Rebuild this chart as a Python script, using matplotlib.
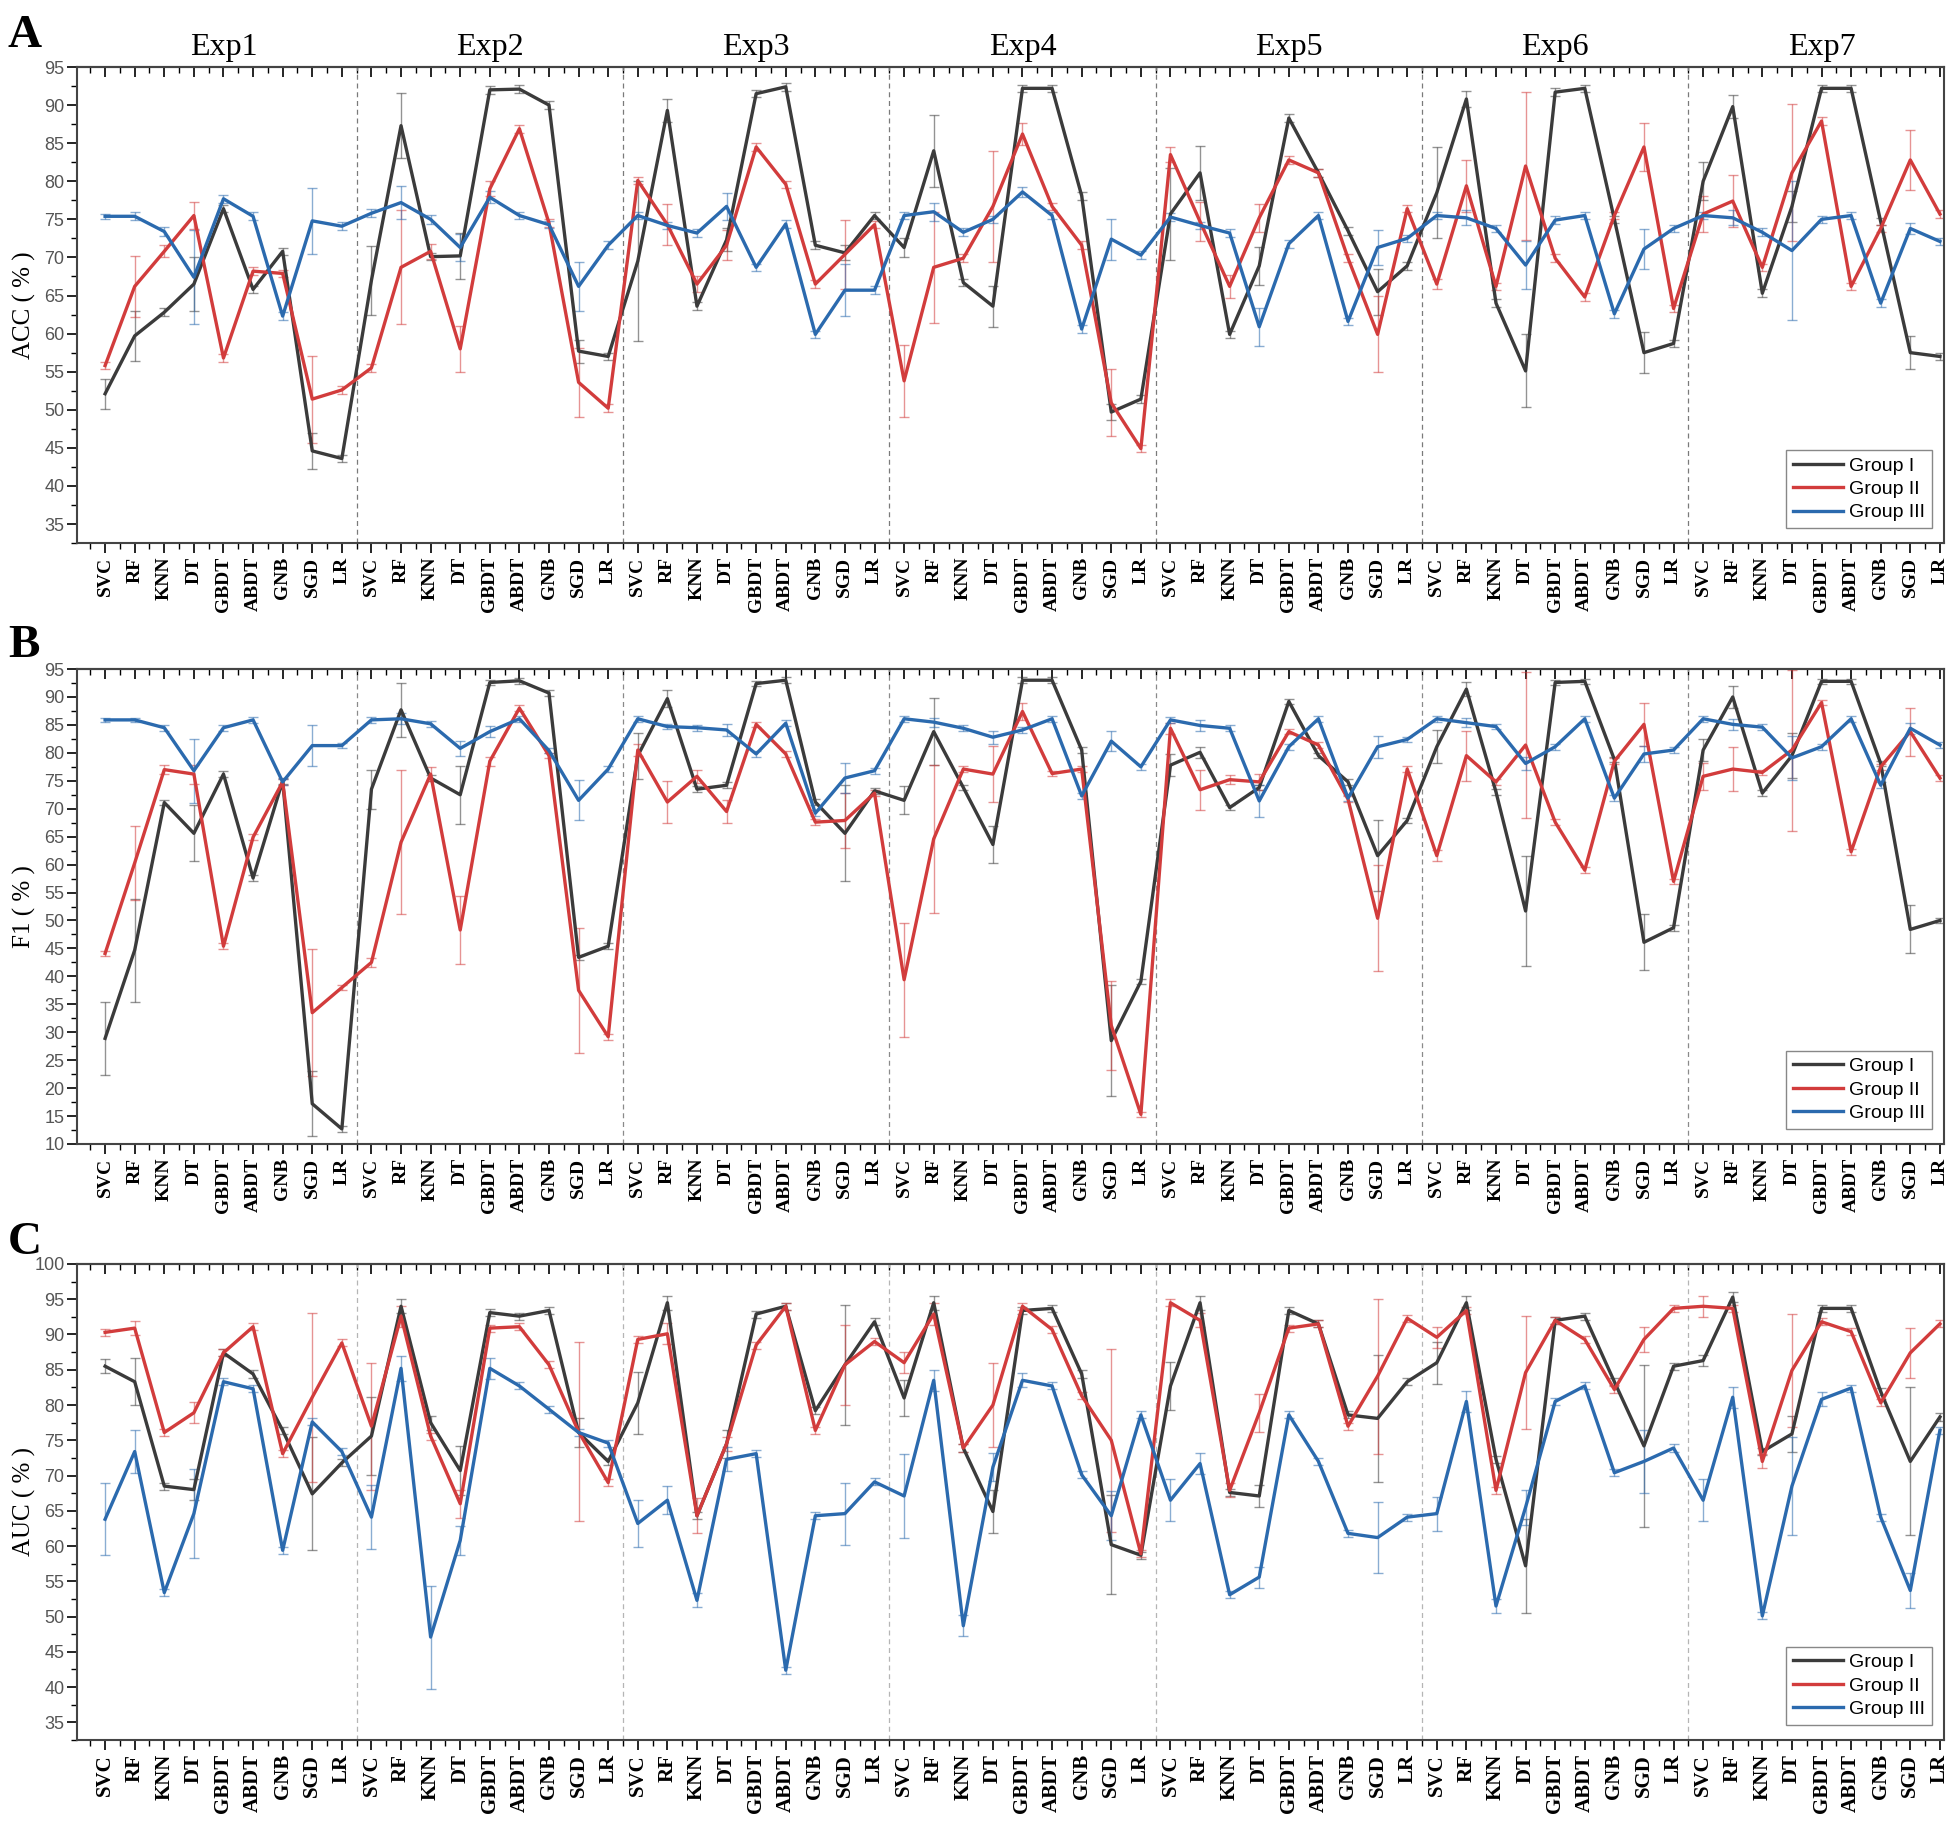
import matplotlib.pyplot as plt
import numpy as np
from matplotlib.lines import Line2D
from matplotlib.ticker import MultipleLocator, FixedLocator

classifiers = ["SVC", "RF", "KNN", "DT", "GBDT", "ABDT", "GNB", "SGD", "LR"]
experiments = ["Exp1", "Exp2", "Exp3", "Exp4", "Exp5", "Exp6", "Exp7"]
groups = ["Group I", "Group II", "Group III"]

# ---- ACC (%) : one row per experiment, one value per classifier ----
acc_g1 = [[52.1, 59.7, 62.8, 66.5, 76.4, 65.8, 70.8, 44.6, 43.6],
          [67.0, 87.3, 70.1, 70.2, 92.0, 92.1, 90.0, 57.7, 57.0],
          [69.5, 89.3, 63.6, 72.3, 91.5, 92.4, 71.6, 70.6, 75.5],
          [71.3, 84.0, 66.7, 63.6, 92.2, 92.2, 78.1, 49.7, 51.4],
          [75.7, 81.1, 59.9, 68.9, 88.3, 81.1, 73.5, 65.5, 68.9],
          [78.5, 90.8, 64.0, 55.1, 91.7, 92.2, 75.0, 57.5, 58.7],
          [80.0, 89.8, 65.3, 76.7, 92.2, 92.2, 74.7, 57.5, 57.0]]
acc_g1_err = [[2.0, 3.3, 0.5, 3.5, 0.5, 0.5, 0.5, 2.4, 0.5],
              [4.5, 4.3, 0.5, 3.0, 0.5, 0.5, 0.5, 1.5, 0.5],
              [10.5, 1.5, 0.5, 1.5, 0.5, 0.5, 0.5, 1.0, 0.5],
              [1.2, 4.7, 0.5, 2.7, 0.5, 0.5, 0.5, 1.0, 0.5],
              [6.0, 3.5, 0.5, 2.5, 0.5, 0.5, 0.5, 3.0, 0.5],
              [6.0, 1.0, 0.5, 4.8, 0.5, 0.5, 0.5, 2.7, 0.5],
              [2.5, 1.5, 0.5, 2.0, 0.5, 0.5, 0.5, 2.2, 0.5]]
acc_g2 = [[55.8, 66.2, 70.8, 75.5, 56.8, 68.2, 67.9, 51.4, 52.6],
          [55.5, 68.7, 70.8, 58.0, 79.0, 86.9, 74.5, 53.6, 50.2],
          [80.1, 74.3, 66.5, 71.6, 84.5, 79.6, 66.5, 70.4, 74.3],
          [53.8, 68.7, 69.9, 76.7, 86.2, 76.7, 71.6, 50.9, 44.9],
          [83.5, 74.7, 66.2, 75.2, 82.8, 81.1, 69.9, 59.9, 76.4],
          [66.5, 79.4, 66.2, 82.0, 69.9, 64.8, 75.5, 84.5, 63.3],
          [75.7, 77.4, 68.7, 81.1, 87.9, 66.2, 73.8, 82.8, 75.7]]
acc_g2_err = [[0.5, 4.0, 0.8, 1.8, 0.5, 0.5, 0.5, 5.7, 0.5],
              [0.5, 7.5, 1.0, 3.0, 1.0, 0.5, 0.5, 4.5, 0.5],
              [0.5, 2.7, 1.0, 2.0, 0.5, 0.5, 0.5, 4.5, 0.5],
              [4.7, 7.3, 0.5, 7.3, 1.5, 0.5, 0.5, 4.4, 0.5],
              [1.0, 2.6, 1.5, 1.8, 0.5, 0.5, 0.5, 5.0, 0.5],
              [0.7, 3.4, 0.5, 9.7, 0.5, 0.5, 0.5, 3.2, 0.5],
              [2.4, 3.4, 0.5, 9.0, 0.5, 0.5, 0.5, 3.9, 0.5]]
acc_g3 = [[75.4, 75.4, 73.4, 67.4, 77.7, 75.4, 62.3, 74.8, 74.1],
          [75.8, 77.2, 75.0, 71.3, 77.9, 75.5, 74.3, 66.2, 71.6],
          [75.5, 74.2, 73.2, 76.7, 68.7, 74.4, 59.9, 65.7, 65.7],
          [75.5, 76.0, 73.3, 75.0, 78.6, 75.5, 60.6, 72.4, 70.3],
          [75.3, 74.2, 73.2, 60.9, 71.8, 75.5, 61.6, 71.3, 72.5],
          [75.5, 75.2, 73.8, 69.0, 74.9, 75.5, 62.6, 71.1, 73.8],
          [75.5, 75.2, 73.3, 70.9, 75.0, 75.5, 64.0, 73.8, 72.1]]
acc_g3_err = [[0.3, 0.5, 0.6, 6.2, 0.5, 0.5, 0.5, 4.3, 0.5],
              [0.5, 2.2, 0.6, 1.8, 0.8, 0.5, 0.5, 3.2, 0.5],
              [0.5, 0.5, 0.5, 1.8, 0.5, 0.5, 0.5, 3.4, 0.5],
              [0.5, 1.2, 0.5, 0.5, 0.7, 0.5, 0.5, 2.7, 0.5],
              [0.5, 0.5, 0.5, 2.5, 0.5, 0.5, 0.5, 2.3, 0.5],
              [0.5, 1.0, 0.5, 3.2, 0.5, 0.5, 0.5, 2.6, 0.5],
              [0.5, 1.0, 0.5, 9.1, 0.5, 0.5, 0.5, 0.7, 0.5]]

# ---- F1 (%) ----
f1_g1 = [[28.9, 44.7, 71.1, 65.6, 76.2, 57.6, 75.0, 17.2, 12.7],
         [73.5, 87.7, 75.5, 72.5, 92.6, 92.9, 90.7, 43.4, 45.4],
         [79.5, 89.7, 73.5, 74.2, 92.4, 93.0, 71.2, 65.6, 73.2],
         [71.5, 83.8, 73.8, 63.6, 93.0, 93.0, 80.5, 28.5, 39.1],
         [77.8, 80.1, 70.2, 73.8, 89.2, 79.5, 74.8, 61.6, 67.9],
         [81.1, 91.4, 73.0, 51.7, 92.6, 92.8, 78.8, 46.1, 48.7],
         [80.5, 90.0, 72.8, 79.5, 92.8, 92.8, 78.1, 48.4, 50.0]]
f1_g1_err = [[6.6, 9.2, 0.5, 5.0, 0.5, 0.5, 0.5, 5.8, 0.5],
             [3.5, 4.8, 0.5, 5.2, 0.5, 0.5, 0.5, 0.5, 0.5],
             [4.1, 1.5, 0.5, 0.5, 0.5, 0.5, 0.5, 8.6, 0.5],
             [2.5, 6.0, 0.5, 3.3, 0.5, 0.5, 0.5, 10.0, 0.5],
             [2.0, 1.0, 0.5, 0.5, 0.5, 0.5, 0.5, 6.3, 0.5],
             [3.0, 1.3, 0.5, 9.8, 0.5, 0.5, 0.5, 5.0, 0.5],
             [2.0, 2.0, 0.5, 4.0, 0.5, 0.5, 0.5, 4.3, 0.5]]
f1_g2 = [[44.1, 60.3, 77.0, 76.2, 45.4, 64.9, 74.8, 33.5, 38.0],
         [42.5, 64.0, 76.2, 48.3, 78.5, 88.0, 79.5, 37.5, 29.2],
         [80.5, 71.2, 75.8, 69.5, 85.1, 79.8, 67.6, 67.9, 72.8],
         [39.4, 64.6, 77.1, 76.2, 87.4, 76.3, 77.1, 31.2, 15.3],
         [84.4, 73.4, 75.2, 74.8, 83.8, 81.4, 71.7, 50.4, 77.1],
         [61.6, 79.5, 74.8, 81.4, 67.6, 59.0, 78.5, 85.1, 57.0],
         [75.8, 77.1, 76.5, 80.5, 89.0, 62.3, 77.5, 83.8, 75.5]]
f1_g2_err = [[0.5, 6.6, 0.8, 1.7, 0.5, 0.5, 0.5, 11.4, 0.5],
             [0.8, 12.9, 1.3, 6.0, 0.8, 0.5, 0.5, 11.2, 0.5],
             [1.0, 3.8, 1.2, 2.0, 0.5, 0.5, 0.5, 5.0, 0.5],
             [10.2, 13.2, 0.5, 5.0, 1.5, 0.5, 0.5, 8.0, 0.5],
             [1.0, 3.6, 0.8, 1.5, 0.5, 0.5, 0.5, 9.5, 0.5],
             [1.0, 4.5, 0.5, 13.0, 0.5, 0.5, 0.5, 3.8, 0.5],
             [2.4, 4.0, 0.5, 14.4, 0.5, 0.5, 0.5, 4.3, 0.5]]
f1_g3 = [[85.9, 85.9, 84.5, 76.8, 84.5, 85.9, 74.8, 81.3, 81.3],
         [85.9, 86.1, 85.2, 80.8, 83.8, 86.1, 80.4, 71.5, 77.1],
         [86.1, 84.7, 84.5, 84.1, 79.8, 85.3, 69.2, 75.5, 76.8],
         [86.1, 85.5, 84.4, 82.8, 84.1, 86.1, 72.3, 82.1, 77.5],
         [85.9, 84.9, 84.4, 71.4, 81.1, 86.1, 71.9, 81.1, 82.4],
         [86.1, 85.4, 84.7, 78.1, 81.1, 86.1, 71.9, 79.8, 80.5],
         [86.1, 85.1, 84.6, 79.1, 81.1, 86.1, 74.2, 84.4, 81.4]]
f1_g3_err = [[0.3, 0.3, 0.5, 5.7, 0.5, 0.5, 0.5, 3.7, 0.5],
             [0.5, 1.0, 0.5, 1.3, 1.0, 0.5, 0.5, 3.6, 0.5],
             [0.5, 0.5, 0.5, 1.0, 0.5, 0.5, 0.5, 2.7, 0.5],
             [0.5, 0.8, 0.5, 1.2, 0.5, 0.5, 0.5, 1.8, 0.5],
             [0.5, 1.0, 0.5, 2.8, 0.5, 0.5, 0.5, 2.0, 0.5],
             [0.5, 0.8, 0.5, 1.2, 0.5, 0.5, 0.5, 1.5, 0.5],
             [0.5, 1.0, 0.5, 4.0, 0.5, 0.5, 0.5, 1.0, 0.5]]

# ---- AUC (%) ----
auc_g1 = [[85.5, 83.3, 68.5, 68.0, 87.4, 84.4, 76.4, 67.4, 71.8],
          [75.6, 94.0, 77.5, 70.7, 93.1, 92.6, 93.4, 76.1, 72.0],
          [80.3, 94.5, 64.3, 74.5, 92.9, 94.0, 79.2, 85.7, 91.8],
          [81.0, 94.5, 73.9, 64.9, 93.4, 93.7, 84.4, 60.2, 58.7],
          [82.7, 94.5, 67.6, 67.1, 93.4, 91.5, 78.6, 78.1, 83.3],
          [86.0, 94.5, 72.3, 57.2, 92.0, 92.6, 83.3, 74.2, 85.5],
          [86.3, 95.3, 73.4, 75.9, 93.7, 93.7, 81.9, 72.0, 78.3]]
auc_g1_err = [[1.0, 3.3, 0.5, 1.5, 0.5, 0.5, 0.5, 8.0, 0.5],
              [5.5, 1.0, 1.0, 3.5, 0.5, 0.5, 0.5, 2.0, 0.5],
              [4.4, 1.0, 0.5, 2.0, 0.5, 0.5, 0.5, 8.5, 0.5],
              [2.5, 1.0, 0.5, 3.0, 0.5, 0.5, 0.5, 7.0, 0.5],
              [3.4, 1.0, 0.5, 1.5, 0.5, 0.5, 0.5, 9.0, 0.5],
              [3.0, 1.0, 0.5, 6.7, 0.5, 0.5, 0.5, 11.5, 0.5],
              [0.8, 0.7, 0.5, 2.5, 0.5, 0.5, 0.5, 10.5, 0.5]]
auc_g2 = [[90.3, 90.9, 76.1, 78.9, 87.4, 91.1, 73.1, 81.1, 88.8],
          [77.0, 92.6, 75.6, 66.0, 90.9, 91.1, 85.7, 76.2, 69.0],
          [89.3, 90.1, 64.3, 74.5, 88.5, 94.0, 76.4, 85.7, 89.0],
          [86.0, 92.9, 73.9, 80.0, 94.0, 90.7, 81.3, 75.0, 58.9],
          [94.5, 92.0, 67.9, 78.9, 90.9, 91.5, 77.0, 84.1, 92.3],
          [89.6, 93.4, 67.9, 84.6, 92.0, 89.3, 82.2, 89.3, 93.7],
          [94.0, 93.7, 72.0, 84.9, 91.8, 90.4, 80.3, 87.4, 91.5]]
auc_g2_err = [[0.5, 1.0, 0.5, 1.5, 0.5, 0.5, 0.5, 12.0, 0.5],
              [9.0, 1.5, 0.5, 2.0, 0.5, 0.5, 0.5, 12.7, 0.5],
              [0.5, 1.5, 2.5, 1.0, 0.5, 0.5, 0.5, 5.7, 0.5],
              [1.5, 1.5, 0.5, 6.0, 0.5, 0.5, 0.5, 13.0, 0.5],
              [0.5, 1.0, 1.0, 2.7, 0.5, 0.5, 0.5, 11.0, 0.5],
              [1.5, 0.5, 0.5, 8.0, 0.5, 0.5, 0.5, 1.8, 0.5],
              [1.5, 0.5, 1.0, 8.0, 0.5, 0.5, 0.5, 3.5, 0.5]]
auc_g3 = [[63.8, 73.4, 53.4, 64.6, 83.3, 82.3, 59.4, 77.6, 73.4],
          [64.1, 85.2, 47.1, 60.8, 85.2, 82.7, 79.4, 76.1, 74.6],
          [63.2, 66.5, 52.3, 72.3, 73.1, 42.4, 64.3, 64.6, 69.1],
          [67.1, 83.5, 48.7, 71.2, 83.5, 82.7, 70.1, 64.3, 78.6],
          [66.5, 71.7, 53.1, 55.6, 78.6, 72.0, 61.8, 61.2, 64.1],
          [64.6, 80.5, 51.5, 65.5, 80.5, 82.7, 70.4, 72.0, 73.9],
          [66.5, 81.1, 50.1, 68.5, 80.8, 82.4, 64.1, 53.7, 76.4]]
auc_g3_err = [[5.1, 3.0, 0.5, 6.3, 0.5, 0.5, 0.5, 0.5, 0.5],
              [4.5, 1.8, 7.3, 2.0, 1.5, 0.5, 0.5, 0.5, 0.5],
              [3.4, 2.0, 1.0, 1.7, 0.5, 0.5, 0.5, 4.4, 0.5],
              [5.9, 1.5, 1.5, 2.0, 1.0, 0.5, 0.5, 3.5, 0.5],
              [3.0, 1.5, 0.5, 1.5, 0.5, 0.5, 0.5, 5.0, 0.5],
              [2.4, 1.5, 1.0, 2.5, 0.5, 0.5, 0.5, 4.5, 0.5],
              [3.0, 1.5, 0.5, 7.0, 1.0, 0.5, 0.5, 2.5, 0.5]]

colors = ["#3b3b3b", "#d23c3c", "#2b6aae"]
serif = "Liberation Serif"
sans = "Liberation Sans"


def plot_panel(ax, series, errors, ylabel, ylim, yticks, legend_y, xlab_size, sep_color):
    n = len(classifiers) * len(experiments)
    x = np.arange(n)

    for k in range(1, len(experiments)):
        ax.axvline(9 * k - 0.5, color=sep_color, linestyle=(0, (4, 3)), linewidth=0.9, zorder=1)

    for vals, errs, c in zip(series, errors, colors):
        y = np.ravel(vals)
        e = np.ravel(errs)
        ax.errorbar(x, y, yerr=e, fmt="none", ecolor=c, alpha=0.55,
                    elinewidth=1.0, capsize=3.5, capthick=1.0, zorder=2)
        ax.plot(x, y, color=c, linewidth=2.4, zorder=3)

    ax.set_xlim(-0.95, n - 0.86)
    ax.set_ylim(*ylim)
    ax.set_yticks(yticks)
    ax.yaxis.set_minor_locator(MultipleLocator(2.5))
    ax.set_xticks(x)
    ax.set_xticklabels(classifiers * len(experiments), rotation=90,
                       fontfamily=serif, fontweight="bold", fontsize=xlab_size)
    ax.xaxis.set_minor_locator(FixedLocator(np.arange(-0.5, n, 1.0)))
    ax.tick_params(axis="x", which="major", direction="out", length=7, width=1.2, pad=3)
    ax.tick_params(axis="x", which="minor", direction="out", length=4, width=1.0)
    ax.tick_params(axis="y", which="major", direction="out", length=7, width=1.2,
                   labelsize=13, labelcolor="#555555", pad=2)
    ax.tick_params(axis="y", which="minor", direction="out", length=4, width=1.0)
    for lab in ax.get_yticklabels():
        lab.set_fontfamily(sans)

    top = ax.secondary_xaxis("top")
    top.set_xticks(x)
    top.xaxis.set_minor_locator(FixedLocator(np.arange(-0.5, n, 1.0)))
    top.tick_params(axis="x", which="major", direction="in", length=7, width=1.2, labeltop=False)
    top.tick_params(axis="x", which="minor", direction="in", length=4, width=1.0)
    top.spines["top"].set_linewidth(1.5)
    top.spines["top"].set_color("#444444")

    for s in ax.spines.values():
        s.set_linewidth(1.5)
        s.set_color("#444444")

    ax.set_ylabel(ylabel, fontfamily=serif, fontsize=18)
    ax.yaxis.set_label_coords(-0.022, 0.5)

    handles = [Line2D([0], [0], color=c, linewidth=2.4) for c in colors]
    leg = ax.legend(handles, groups, loc="lower right", bbox_to_anchor=(0.9936, legend_y),
                    borderaxespad=0, fancybox=False, edgecolor="#888888", framealpha=1,
                    prop={"family": sans, "size": 14}, handlelength=2.6,
                    labelspacing=0.3, borderpad=0.35, handletextpad=0.3)
    leg.get_frame().set_linewidth(1.0)


fig = plt.figure(figsize=(19.54, 18.26), dpi=100)
ax_a = fig.add_axes([0.0394, 0.7026, 0.9555, 0.2607])
ax_b = fig.add_axes([0.0394, 0.3735, 0.9555, 0.2601])
ax_c = fig.add_axes([0.0394, 0.0471, 0.9555, 0.2607])

plot_panel(ax_a, [acc_g1, acc_g2, acc_g3], [acc_g1_err, acc_g2_err, acc_g3_err],
           "ACC ( % )", (32.5, 95), np.arange(35, 96, 5), 0.031, 14, "#7a7a7a")
plot_panel(ax_b, [f1_g1, f1_g2, f1_g3], [f1_g1_err, f1_g2_err, f1_g3_err],
           "F1 ( % )", (10, 95), np.arange(10, 96, 5), 0.032, 14, "#8a8a8a")
plot_panel(ax_c, [auc_g1, auc_g2, auc_g3], [auc_g1_err, auc_g2_err, auc_g3_err],
           "AUC ( % )", (32.5, 100), np.arange(35, 101, 5), 0.032, 15, "#b5b5b5")

for k, name in enumerate(experiments):
    ax_a.text(9 * k + 4, 1.025, name, transform=ax_a.get_xaxis_transform(),
              ha="center", va="baseline", fontfamily=serif, fontsize=23)

for letter, ypos in zip(["A", "B", "C"], [0.974, 0.640, 0.3133]):
    fig.text(0.004, ypos, letter, fontfamily=serif, fontweight="bold", fontsize=34, va="baseline")

fig.savefig("out.png", dpi=100)
